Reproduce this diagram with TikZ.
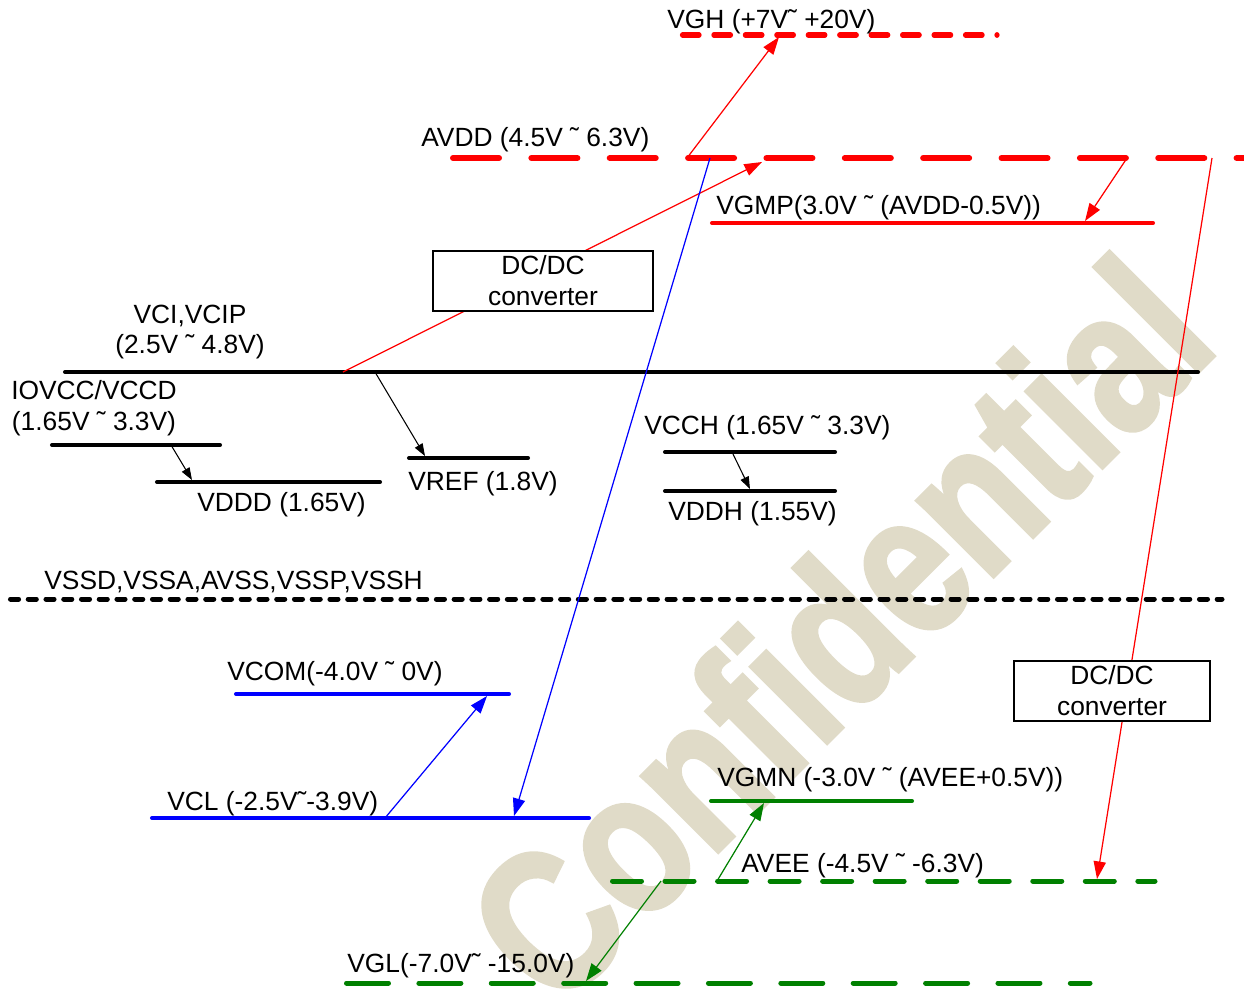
\documentclass[tikz,border=0pt]{standalone}
\usepackage{fontspec}
\setmainfont{Liberation Sans}
\newfontfamily\markfont[FakeBold=2]{Liberation Sans Bold}
\usepackage{graphicx}
\usetikzlibrary{positioning,arrows.meta}
\definecolor{RailRed}{RGB}{255,0,0}
\definecolor{RailBlue}{RGB}{0,0,255}
\definecolor{RailGreen}{RGB}{0,128,0}
\definecolor{WaterTan}{RGB}{224,219,200}
\newcommand{\wave}{\char"02DC\relax}
\tikzset{
  rail/.style={line width=2.3pt,line cap=round},
  avddrail/.style={line width=3.4pt,line cap=round,dash pattern=on 26.2pt off 18.4pt},
  vghrail/.style={line width=3pt,line cap=round,dash pattern=on 9.4pt off 8.5pt},
  vssrail/.style={line width=2.85pt,line cap=round,dash pattern=on 4.6pt off 5.5pt},
  aveerail/.style={line width=2.85pt,line cap=round,dash pattern=on 16.5pt off 13.4pt},
  vglrail/.style={line width=2.85pt,line cap=round,dash pattern=on 23.9pt off 17.3pt},
  link/.style={-{Triangle[length=10pt,width=7pt]},line width=0.7pt},
  smalllink/.style={-{Triangle[length=7pt,width=5pt]},line width=0.6pt},
  lbl/.style={inner sep=0pt,font=\fontsize{15}{17.6}\selectfont},
  dcbox/.style={draw,fill=white,line width=0.7pt,inner sep=0pt,align=center,
    minimum width=4.4cm,minimum height=1.2cm,font=\fontsize{15}{17.6}\selectfont},
  watermark/.style={rotate=45,anchor=base west,inner sep=0pt,text=WaterTan,
    font=\fontsize{116}{116}\markfont}
}

\begin{document}
\begin{tikzpicture}[x=0.02cm,y=-0.02cm]
  \useasboundingbox (0,0) rectangle (1244,992);
  \node[watermark] (mark) at (556,1014) {\scalebox{0.8}[1]{Confidential}};

  \draw[vghrail,RailRed] (682.5,35) -- (997,35);
  \draw[avddrail,RailRed] (453,158) -- (1250,158);
  \draw[rail,RailRed] (712,223) -- (1153,223);
  \draw[rail] (65,372) -- (1198,372);
  \draw[rail] (52,445) -- (220,445);
  \draw[rail] (157,482) -- (380,482);
  \draw[rail] (409,458) -- (528,458);
  \draw[rail] (665,452) -- (835,452);
  \draw[rail] (665,491) -- (835,491);
  \draw[vssrail] (10.5,599) -- (1222,599);
  \draw[rail,RailBlue] (236,694) -- (509,694);
  \draw[rail,RailBlue] (152,818) -- (589,818);
  \draw[rail,RailGreen] (711,801) -- (912,801);
  \draw[aveerail,RailGreen] (612.5,881) -- (1155,881);
  \draw[vglrail,RailGreen] (346.5,983) -- (1090,983);

  \coordinate (avdd2vgh) at (687,158);   \coordinate (vghtip) at (779,37);
  \coordinate (vci2avdd) at (343,372);   \coordinate (avddtip) at (762,162);
  \coordinate (avdd2vcl) at (710,158);   \coordinate (vcltip) at (514,816);
  \coordinate (avdd2vgmp) at (1127,158); \coordinate (vgmptip) at (1085,221);
  \coordinate (avdd2avee) at (1212,158); \coordinate (aveetip) at (1097,879);
  \coordinate (vci2vref) at (375,372);   \coordinate (vreftip) at (425,456);
  \coordinate (iovcc2vddd) at (171,445); \coordinate (vdddtip) at (192,480);
  \coordinate (vcch2vddh) at (732,452);  \coordinate (vddhtip) at (750,489);
  \coordinate (vcl2vcom) at (385,818);   \coordinate (vcomtip) at (487,696);
  \coordinate (avee2vgmn) at (717,881);  \coordinate (vgmntip) at (764,803);
  \coordinate (avee2vgl) at (661,881);   \coordinate (vgltip) at (586,981);

  \draw[link,RailRed] (avdd2vgh) -- (vghtip);
  \draw[link,RailRed] (vci2avdd) -- (avddtip);
  \draw[link,RailBlue] (avdd2vcl) -- (vcltip);
  \draw[link,RailRed] (avdd2vgmp) -- (vgmptip);
  \draw[link,RailRed] (avdd2avee) -- (aveetip);
  \draw[smalllink] (vci2vref) -- (vreftip);
  \draw[smalllink] (iovcc2vddd) -- (vdddtip);
  \draw[smalllink] (vcch2vddh) -- (vddhtip);
  \draw[link,RailBlue] (vcl2vcom) -- (vcomtip);
  \draw[link,RailGreen] (avee2vgmn) -- (vgmntip);
  \draw[link,RailGreen] (avee2vgl) -- (vgltip);

  \node[dcbox] (dcup) at (543,281) {DC/DC\\converter};
  \node[dcbox,minimum width=3.92cm] (dcdown) at (1112,691) {DC/DC\\converter};

  \node[lbl,anchor=west] (vghlbl) at (667,22) {VGH (+7V\wave{} +20V)};
  \node[lbl,anchor=west] (avddlbl) at (421,140) {AVDD (4.5V \wave{} 6.3V)};
  \node[lbl,anchor=west] (vgmplbl) at (716,208) {VGMP(3.0V \wave{} (AVDD-0.5V))};
  \node[lbl,align=center] (vcilbl) at (190,332) {VCI,VCIP\\(2.5V \wave{} 4.8V)};
  \node[lbl,align=center] (iovcclbl) at (94,408) {IOVCC/VCCD\\(1.65V \wave{} 3.3V)};
  \node[lbl,anchor=west] (vdddlbl) at (197,505) {VDDD (1.65V)};
  \node[lbl,anchor=west] (vreflbl) at (408,484) {VREF (1.8V)};
  \node[lbl,anchor=west] (vcchlbl) at (644,428) {VCCH (1.65V \wave{} 3.3V)};
  \node[lbl,anchor=west] (vddhlbl) at (668,514) {VDDH (1.55V)};
  \node[lbl,anchor=west] (vsslbl) at (44,582) {VSSD,VSSA,AVSS,VSSP,VSSH};
  \node[lbl,anchor=west] (vcomlbl) at (227,674) {VCOM(-4.0V \wave{} 0V)};
  \node[lbl,anchor=west] (vcllbl) at (167,804) {VCL (-2.5V\wave{}-3.9V)};
  \node[lbl,anchor=west] (vgmnlbl) at (717,780) {VGMN (-3.0V \wave{} (AVEE+0.5V))};
  \node[lbl,anchor=west] (aveelbl) at (741,866) {AVEE (-4.5V \wave{} -6.3V)};
  \node[lbl,anchor=west] (vgllbl) at (347,966) {VGL(-7.0V\wave{} -15.0V)};
\end{tikzpicture}
\end{document}
